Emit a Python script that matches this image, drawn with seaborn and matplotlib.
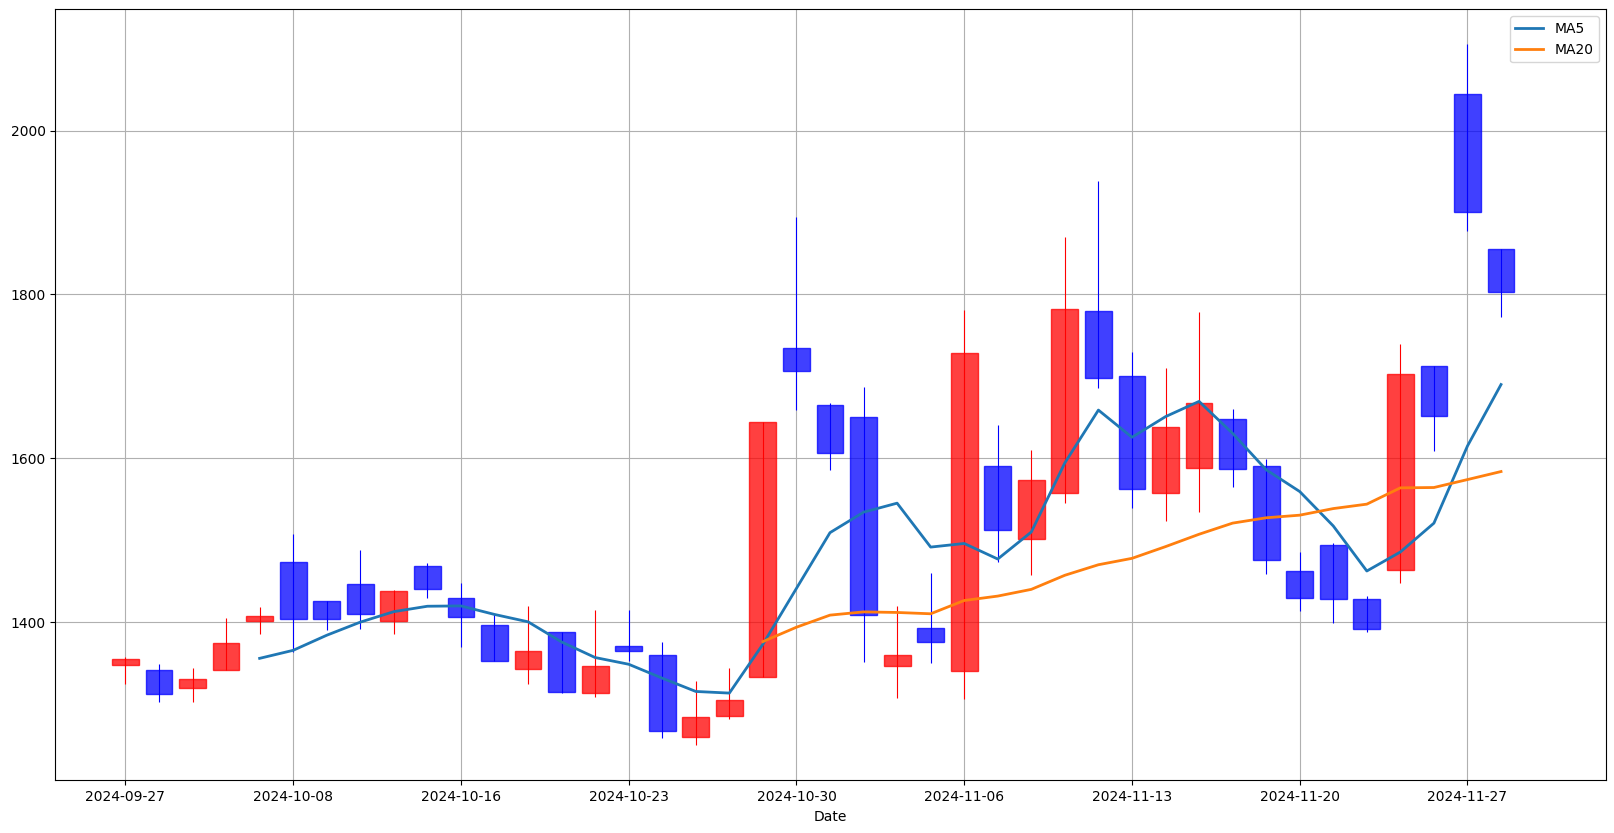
import numpy as np
import pandas as pd
import matplotlib
matplotlib.use("Agg")
import matplotlib.pyplot as plt
import seaborn as sns

opens = [1348, 1341, 1320, 1342, 1401, 1474, 1426, 1446, 1401, 1469,
         1430, 1396, 1343, 1388, 1314, 1371, 1360, 1260, 1285, 1333,
         1734, 1665, 1650, 1346, 1393, 1340, 1590, 1501, 1558, 1780,
         1700, 1557, 1588, 1648, 1590, 1462, 1494, 1428, 1464, 1713,
         2045, 1855]
highs = [1358, 1349, 1344, 1405, 1419, 1507, 1426, 1488, 1439, 1472,
         1448, 1410, 1420, 1388, 1415, 1415, 1376, 1328, 1344, 1644,
         1894, 1667, 1687, 1420, 1460, 1781, 1641, 1610, 1870, 1939,
         1730, 1710, 1778, 1660, 1599, 1486, 1496, 1432, 1740, 1713,
         2105, 1855]
lows = [1325, 1303, 1303, 1342, 1385, 1364, 1390, 1392, 1385, 1429,
        1370, 1352, 1325, 1313, 1309, 1353, 1259, 1249.5, 1282, 1333,
        1659, 1586, 1351, 1307, 1350, 1306, 1473, 1458, 1545, 1686,
        1539, 1524, 1535, 1565, 1459, 1413, 1399, 1388, 1448, 1609,
        1877, 1772]
closes = [1355, 1312, 1330, 1374, 1408, 1404, 1404, 1410, 1438, 1441,
          1406, 1352, 1365, 1315, 1346, 1365, 1267, 1284, 1305, 1644,
          1706, 1607, 1409, 1360, 1376, 1728, 1512, 1574, 1782, 1698,
          1562, 1638, 1667, 1587, 1476, 1429, 1428, 1392, 1703, 1652,
          1900, 1803]
tick_labels = ["2024-09-27", "2024-10-08", "2024-10-16", "2024-10-23",
               "2024-10-30", "2024-11-06", "2024-11-13", "2024-11-20",
               "2024-11-27"]

df = pd.DataFrame({"open": opens, "high": highs, "low": lows, "close": closes})
df["idx"] = np.arange(len(df))
df["MA5"] = df["close"].rolling(5).mean()
df["MA20"] = df["close"].rolling(20).mean()

fig = plt.figure(figsize=(16.14, 8.33), dpi=100)
ax = fig.add_axes([0.03426, 0.06303, 0.99486 - 0.03426, 0.98866 - 0.06303])

up = df["close"] >= df["open"]
cols = np.where(up, "red", "blue")
bottoms = np.minimum(df["open"], df["close"])
heights = np.abs(df["close"] - df["open"])

ax.bar(df["idx"], heights, bottom=bottoms, width=0.8, color=cols,
       edgecolor=cols, alpha=0.75, zorder=2)
ax.vlines(df["idx"], df["low"], df["high"], colors=cols, linewidth=0.8, zorder=2)

sns.lineplot(x=df["idx"], y=df["MA5"], ax=ax, label="MA5", color="#1f77b4",
             linewidth=2, zorder=3)
sns.lineplot(x=df["idx"], y=df["MA20"], ax=ax, label="MA20", color="#ff7f0e",
             linewidth=2, zorder=3)

ax.set_xticks(np.arange(0, len(df), 5))
ax.set_xticklabels(tick_labels)
ax.set_xlim(-2.09, 44.12)
ax.set_xlabel("Date")
ax.set_ylabel("")
ax.grid(True, zorder=0)
ax.set_axisbelow(True)
ax.legend(loc="upper right")

fig.savefig("out.png", dpi=100)
